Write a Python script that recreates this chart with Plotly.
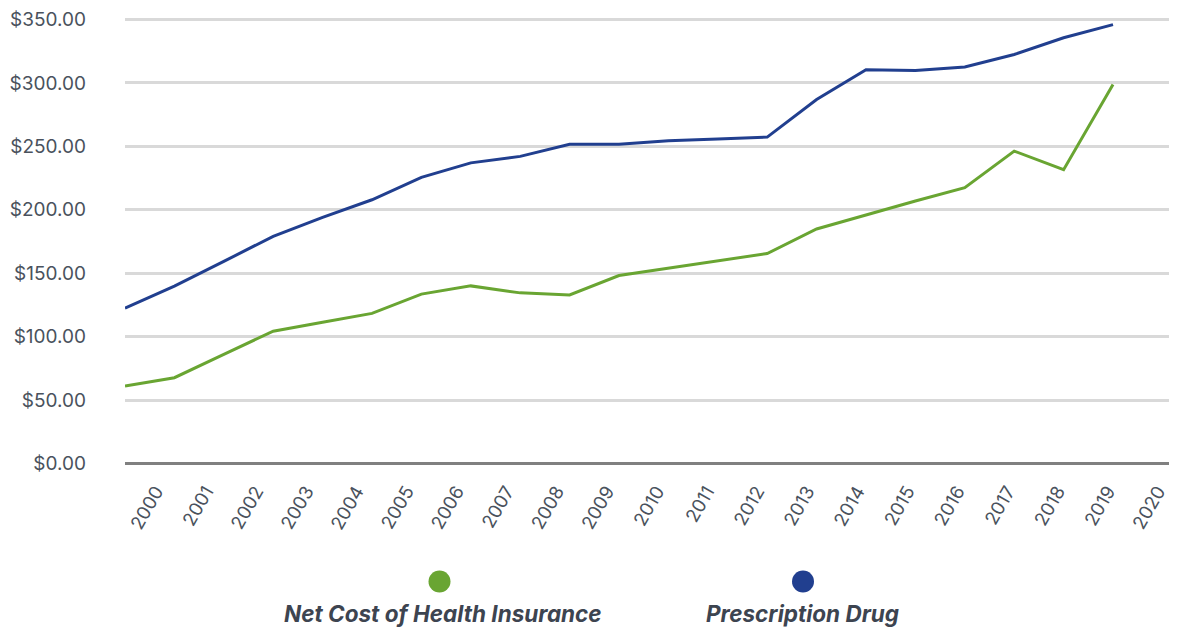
import plotly.graph_objects as go

years = list(range(2000, 2021))
tick_labels = [str(y) for y in range(2000, 2021)]
net_cost_health_insurance = [61.0, 67.6, 86.0, 104.3, 111.3, 118.3, 133.5, 140.0, 134.5, 132.9,
                             148.2, 153.9, 159.6, 165.5, 184.9, 196.1, 206.9, 217.4, 246.3, 231.6, 298.8]
prescription_drug = [122.4, 139.8, 159.3, 179.1, 194.0, 207.9, 225.6, 237.0, 242.1, 251.6,
                     251.6, 254.5, 255.9, 257.3, 287.0, 310.4, 309.8, 312.6, 322.4, 335.6, 346.0]
series_names = ["Net Cost of Health Insurance", "Prescription Drug"]
colors = ["#69A532", "#213F8F"]

OFF = 8  # page body margin
W, H = 1177 - OFF, 627 - OFF
L, R, T, B = 125 - OFF, 0, 16.5 - OFF, 627 - 466
pw = W - L - R
ph = H - T - B

fig = go.Figure()
for name, vals, col in zip(series_names, [net_cost_health_insurance, prescription_drug], colors):
    fig.add_trace(go.Scatter(x=years, y=vals, mode="lines", name=name,
                             line=dict(color=col, width=3), showlegend=False,
                             cliponaxis=False))

# invisible trace for label axis
fig.add_trace(go.Scatter(x=list(range(len(tick_labels))), y=[None] * len(tick_labels),
                         xaxis="x2", mode="lines", showlegend=False, hoverinfo="skip"))

px_per_year = 49.4
fig.update_layout(
    width=W, height=H,
    margin=dict(l=L, r=R, t=T, b=B),
    paper_bgcolor="white", plot_bgcolor="white",
    font=dict(family="Inter", size=19, color="#4A525D"),
    xaxis=dict(range=[2000, 2000 + pw / px_per_year], showgrid=False, showticklabels=False,
               zeroline=False, showline=False, ticks=""),
    xaxis2=dict(overlaying="x", side="bottom", anchor="y", range=[-0.62, 20.38],
                tickmode="array", tickvals=list(range(len(tick_labels))), ticktext=tick_labels,
                tickangle=-60, showgrid=False, zeroline=False, showline=False, ticks="",
                tickfont=dict(size=18.5, color="#4A525D"), ticklabelstandoff=10),
    yaxis=dict(range=[-2, 352], tickvals=[0, 50, 100, 150, 200, 250, 300, 350],
               tickformat="$,.2f", showgrid=True, gridcolor="#D9D9D9", gridwidth=3,
               zeroline=True, zerolinecolor="#808080", zerolinewidth=3,
               showline=False, ticks="", ticklabelstandoff=38,
               tickfont=dict(size=19, color="#4A525D")),
)

legend_x = [439.5, 803]
text_x = [443, 802.5]
for name, col, px, tx in zip(series_names, colors, legend_x, text_x):
    xp = (px - 125) / pw
    fig.add_shape(type="circle", xref="paper", yref="paper",
                  xsizemode="pixel", ysizemode="pixel",
                  xanchor=xp, yanchor=(466 - 581.7) / ph,
                  x0=-11, x1=11, y0=-11, y1=11,
                  fillcolor=col, line=dict(width=0))
    fig.add_annotation(xref="paper", yref="paper", x=(tx - 125) / pw, y=(466 - 614) / ph,
                       text="<b><i>" + name + "</i></b>", showarrow=False,
                       xanchor="center", yanchor="middle",
                       font=dict(family="Inter", size=22.5, color="#3D4450"))

fig.write_html("out.html")
